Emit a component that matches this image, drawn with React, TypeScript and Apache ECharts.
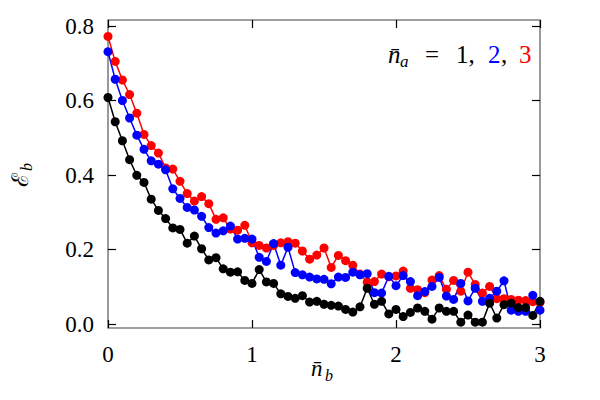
import React, { useEffect, useRef } from "react";
import * as echarts from "echarts";

const xValues: number[] = Array.from({ length: 61 }, (_, i) => +(i * 0.05).toFixed(2));

const blackVals = [
  0.608, 0.543, 0.492, 0.441, 0.399, 0.380, 0.335, 0.305, 0.283, 0.258,
  0.254, 0.217, 0.236, 0.202, 0.172, 0.178, 0.148, 0.139, 0.140, 0.117,
  0.109, 0.146, 0.113, 0.109, 0.081, 0.074, 0.069, 0.076, 0.059, 0.061,
  0.053, 0.050, 0.048, 0.039, 0.032, 0.046, 0.096, 0.053, 0.061, 0.027,
  0.039, 0.020, 0.031, 0.043, 0.034, 0.013, 0.043, 0.034, 0.034, 0.005,
  0.024, 0.005, 0.005, 0.056, 0.016, 0.052, 0.056, 0.044, 0.044, 0.023,
  0.061,
];

const blueVals = [
  0.731, 0.657, 0.600, 0.553, 0.507, 0.469, 0.438, 0.429, 0.414, 0.363,
  0.337, 0.313, 0.306, 0.289, 0.259, 0.244, 0.250, 0.263, 0.228, 0.230,
  0.228, 0.179, 0.168, 0.216, 0.158, 0.206, 0.138, 0.132, 0.126, 0.121,
  0.120, 0.108, 0.126, 0.125, 0.139, 0.132, 0.135, 0.084, 0.083, 0.128,
  0.103, 0.130, 0.114, 0.076, 0.087, 0.101, 0.125, 0.075, 0.066, 0.109,
  0.062, 0.096, 0.061, 0.069, 0.088, 0.116, 0.037, 0.034, 0.034, 0.077,
  0.037,
];

const redVals = [
  0.772, 0.705, 0.655, 0.616, 0.566, 0.509, 0.479, 0.459, 0.419, 0.416,
  0.383, 0.350, 0.330, 0.342, 0.323, 0.281, 0.285, 0.255, 0.252, 0.265,
  0.218, 0.211, 0.204, 0.211, 0.218, 0.221, 0.217, 0.196, 0.174, 0.185,
  0.204, 0.152, 0.184, 0.170, 0.158, 0.134, 0.112, 0.114, 0.134, 0.127,
  0.129, 0.142, 0.096, 0.092, 0.084, 0.118, 0.130, 0.093, 0.117, 0.088,
  0.139, 0.106, 0.083, 0.101, 0.068, 0.068, 0.066, 0.064, 0.063, 0.060,
  0.058,
];

const FONT = "Liberation Serif";

const txt = (
  text: string,
  x: number,
  y: number,
  size: number,
  fill: string,
  italic = false,
) => {
  const style: any = {
    text,
    fontFamily: FONT,
    fontSize: size,
    fill,
    align: "left",
    verticalAlign: "middle",
  };
  if (italic) style.fontStyle = "italic";
  return { type: "text", x, y, silent: true, style };
};

export default function App() {
  const ref = useRef<HTMLDivElement>(null);
  useEffect(() => {
    if (!ref.current) return;
    const css = document.createElement("style");
    css.textContent =
      "#root svg text, #root svg tspan { font-family: 'Liberation Serif', serif !important; }";
    document.head.appendChild(css);
    const chart = echarts.init(ref.current, undefined, { renderer: "svg" });
    const mk = (vals: number[], color: string) => ({
      type: "line",
      data: vals.map((v, i) => [xValues[i], v]),
      symbol: "circle",
      symbolSize: 9,
      showSymbol: true,
      lineStyle: { color, width: 1.5 },
      itemStyle: { color },
      xAxisIndex: 0,
      yAxisIndex: 0,
    });
    const tick = { show: true, inside: true, length: 8, lineStyle: { color: "#000", width: 1.2 } };
    chart.setOption({
      animation: false,
      textStyle: { fontFamily: FONT },
      grid: [
        { left: 108, right: 60, top: 26, bottom: 76, show: false },
        { left: 108, right: 60, top: 20, bottom: 72, show: true, borderColor: "#808080", borderWidth: 1.6 },
      ],
      xAxis: [
        { type: "value", gridIndex: 0, min: 0, max: 3, show: false },
        {
          type: "value", gridIndex: 1, min: 0, max: 3, interval: 1, position: "bottom",
          axisLine: { show: false }, splitLine: { show: false }, axisTick: tick,
          axisLabel: { margin: 15, fontFamily: FONT, fontSize: 23, color: "#000" },
        },
        {
          type: "value", gridIndex: 1, min: 0, max: 3, interval: 1, position: "top",
          axisLine: { show: false }, splitLine: { show: false }, axisTick: tick, axisLabel: { show: false },
        },
      ],
      yAxis: [
        {
          type: "value", gridIndex: 0, min: 0, max: 0.8, interval: 0.2, position: "left",
          axisLine: { show: false }, splitLine: { show: false }, axisTick: tick,
          axisLabel: {
            margin: 14, fontFamily: FONT, fontSize: 23, color: "#000",
            formatter: (v: number) => v.toFixed(1),
          },
        },
        {
          type: "value", gridIndex: 0, min: 0, max: 0.8, interval: 0.2, position: "right",
          axisLine: { show: false }, splitLine: { show: false }, axisTick: tick, axisLabel: { show: false },
        },
        { type: "value", gridIndex: 1, min: 0, max: 1, show: false },
      ],
      graphic: [
        txt("n\u0304", 311, 368, 23, "#000", true),
        txt("b", 325, 375, 16, "#000", true),
        {
          type: "group",
          x: 22,
          y: 180,
          rotation: Math.PI / 2,
          children: [
            txt("\u2130", -7, -1.5, 23, "#000"),
            txt("b", 9, 4, 16, "#000", true),
          ],
        },
        txt("n\u0304", 388, 54.5, 25, "#000", true),
        txt("a", 400, 61, 17, "#000", true),
        txt("=", 425, 54.5, 25, "#000"),
        txt("1,", 456, 54.5, 25, "#000"),
        txt("2", 488, 54.5, 25, "#0000ff"),
        txt(",", 501, 54.5, 25, "#000"),
        txt("3", 519, 54.5, 25, "#ff0000"),
      ],
      series: [mk(redVals, "#ff0000"), mk(blueVals, "#0000ff"), mk(blackVals, "#000000")],
    });
    return () => {
      chart.dispose();
      css.remove();
    };
  }, []);
  return (
    <div
      ref={ref}
      style={{ position: "absolute", left: 0, top: 0, width: 600, height: 400, background: "#fff" }}
    />
  );
}
